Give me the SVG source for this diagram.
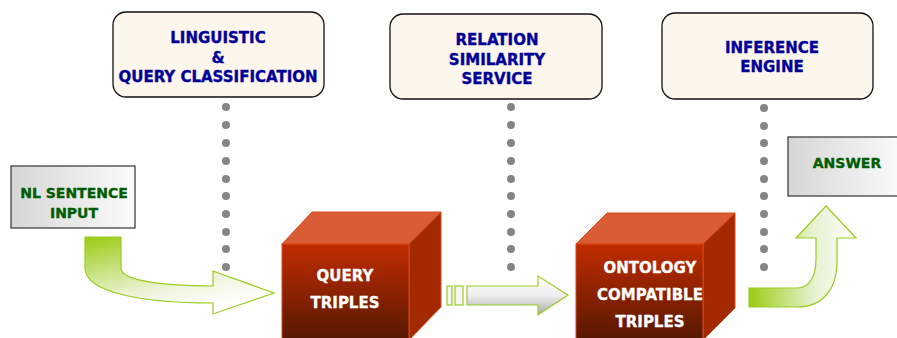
<svg xmlns="http://www.w3.org/2000/svg" width="897" height="338" viewBox="0 0 897 338">
<defs>
<linearGradient id="greyBox" x1="0" y1="0" x2="1" y2="0">
<stop offset="0" stop-color="#d6d6d6"/>
<stop offset="1" stop-color="#fbfbfb"/>
</linearGradient>
<linearGradient id="front" x1="0" y1="0" x2="0" y2="1">
<stop offset="0" stop-color="#c22c00"/>
<stop offset="1" stop-color="#561800"/>
</linearGradient>
<linearGradient id="g1" x1="0" y1="0" x2="0.55" y2="1">
<stop offset="0" stop-color="#99cc11"/>
<stop offset="0.7" stop-color="#eef5dd"/>
<stop offset="1" stop-color="#ffffff"/>
</linearGradient>
<linearGradient id="g3" x1="0" y1="0" x2="1" y2="0">
<stop offset="0" stop-color="#99cc11"/>
<stop offset="0.6" stop-color="#e6f2d0"/>
<stop offset="1" stop-color="#ffffff"/>
</linearGradient>
<linearGradient id="g2" x1="0" y1="0" x2="0" y2="1">
<stop offset="0" stop-color="#ffffff"/>
<stop offset="0.5" stop-color="#eeeeee"/>
<stop offset="1" stop-color="#a8a8a8"/>
</linearGradient>
<style>
.svc{fill:#fdf6ec;stroke:#111;stroke-width:1.3}
.blue{font-family:"DejaVu Sans",Verdana,sans-serif;font-weight:bold;font-size:15px;fill:#000099;stroke:#000099;stroke-width:0.35;text-anchor:middle}
.green{font-family:"DejaVu Sans",Verdana,sans-serif;font-weight:bold;font-size:14px;fill:#005c00;stroke:#005c00;stroke-width:0.35;text-anchor:middle}
.white{font-family:"DejaVu Sans",Verdana,sans-serif;font-weight:bold;font-size:15px;fill:#ffffff;stroke:#ffffff;stroke-width:0.3;text-anchor:middle}
.io{fill:url(#greyBox);stroke:#333;stroke-width:1.2}
.dot{fill:#858585}
.ff{fill:url(#front);stroke:#d84a18;stroke-width:1}
.tf{fill:#d95c34;stroke:#d84a18;stroke-width:1}
.sf{fill:#a32a00;stroke:#d84a18;stroke-width:1}
.arr{stroke:#9acc22;stroke-width:1.2}
</style>
</defs>

<g id="connectors">
<g id="dots1">
<circle class="dot" cx="226" cy="107" r="4"/><circle class="dot" cx="226" cy="125" r="4"/><circle class="dot" cx="226" cy="143" r="4"/><circle class="dot" cx="226" cy="161" r="4"/><circle class="dot" cx="226" cy="179" r="4"/><circle class="dot" cx="226" cy="196" r="4"/><circle class="dot" cx="226" cy="214" r="4"/><circle class="dot" cx="226" cy="232" r="4"/><circle class="dot" cx="226" cy="249" r="4"/><circle class="dot" cx="226" cy="267" r="4"/>
</g>
<g id="dots2">
<circle class="dot" cx="511" cy="107" r="4"/><circle class="dot" cx="511" cy="125" r="4"/><circle class="dot" cx="511" cy="143" r="4"/><circle class="dot" cx="511" cy="161" r="4"/><circle class="dot" cx="511" cy="179" r="4"/><circle class="dot" cx="511" cy="196" r="4"/><circle class="dot" cx="511" cy="214" r="4"/><circle class="dot" cx="511" cy="232" r="4"/><circle class="dot" cx="511" cy="249" r="4"/><circle class="dot" cx="511" cy="267" r="4"/>
</g>
<g id="dots3">
<circle class="dot" cx="764" cy="108" r="4"/><circle class="dot" cx="764" cy="126" r="4"/><circle class="dot" cx="764" cy="143" r="4"/><circle class="dot" cx="764" cy="161" r="4"/><circle class="dot" cx="764" cy="179" r="4"/><circle class="dot" cx="764" cy="196" r="4"/><circle class="dot" cx="764" cy="214" r="4"/><circle class="dot" cx="764" cy="232" r="4"/><circle class="dot" cx="764" cy="249" r="4"/><circle class="dot" cx="764" cy="267" r="4"/>
</g>
<path id="arrow1" class="arr" fill="url(#g1)" d="M85,237 L121,237 L121,268 C121,281 165,286 213,286 L213,271 L274,293 L213,314 L213,303 C140,303 85,292 85,268 Z"/>
<g id="arrow2" class="arr">
<rect x="447" y="286" width="5" height="19" fill="#f4f4f4"/>
<rect x="455" y="286" width="8" height="19" fill="#f4f4f4"/>
<path fill="url(#g2)" d="M467,286 L538,286 L538,276 L568,295 L538,315 L538,305 L467,305 Z"/>
</g>
<path id="arrow3" class="arr" fill="url(#g3)" d="M749,288 L797,288 C810,288 816,276 816,258 L816,238 L796,238 L826,206 L856,238 L837,238 L837,262 C837,290 822,307 797,307 L749,307 Z"/>
</g>

<g id="linguistic">
<rect class="svc" x="113" y="12" width="211" height="85" rx="13"/>
<text class="blue" x="218" y="43">LINGUISTIC</text>
<text class="blue" x="218" y="63">&amp;</text>
<text class="blue" x="218" y="82">QUERY CLASSIFICATION</text>
</g>
<g id="relation">
<rect class="svc" x="390" y="14" width="212" height="85" rx="13"/>
<text class="blue" x="497" y="45">RELATION</text>
<text class="blue" x="497" y="65">SIMILARITY</text>
<text class="blue" x="497" y="84">SERVICE</text>
</g>
<g id="inference">
<rect class="svc" x="662" y="13" width="211" height="86" rx="13"/>
<text class="blue" x="772" y="53">INFERENCE</text>
<text class="blue" x="772" y="72">ENGINE</text>
</g>

<g id="nl-input">
<rect class="io" x="11" y="166" width="124" height="62"/>
<text class="green" x="74" y="198">NL SENTENCE</text>
<text class="green" x="74" y="218">INPUT</text>
</g>
<g id="answer">
<rect class="io" x="788" y="137" width="115" height="59"/>
<text class="green" x="847" y="168">ANSWER</text>
</g>

<g id="query-triples">
<polygon class="tf" points="282,244 312,212 441,212 409,244"/>
<polygon class="sf" points="409,244 441,212 441,307 409,340"/>
<rect class="ff" x="282" y="244" width="127" height="96"/>
<text class="white" x="345" y="281">QUERY</text>
<text class="white" x="345" y="308">TRIPLES</text>
</g>
<g id="ontology-triples">
<polygon class="tf" points="576,244 607,213 735,213 703,244"/>
<polygon class="sf" points="703,244 735,213 735,308 703,340"/>
<rect class="ff" x="576" y="244" width="127" height="96"/>
<text class="white" x="650" y="273">ONTOLOGY</text>
<text class="white" x="650" y="300">COMPATIBLE</text>
<text class="white" x="650" y="327">TRIPLES</text>
</g>
</svg>
